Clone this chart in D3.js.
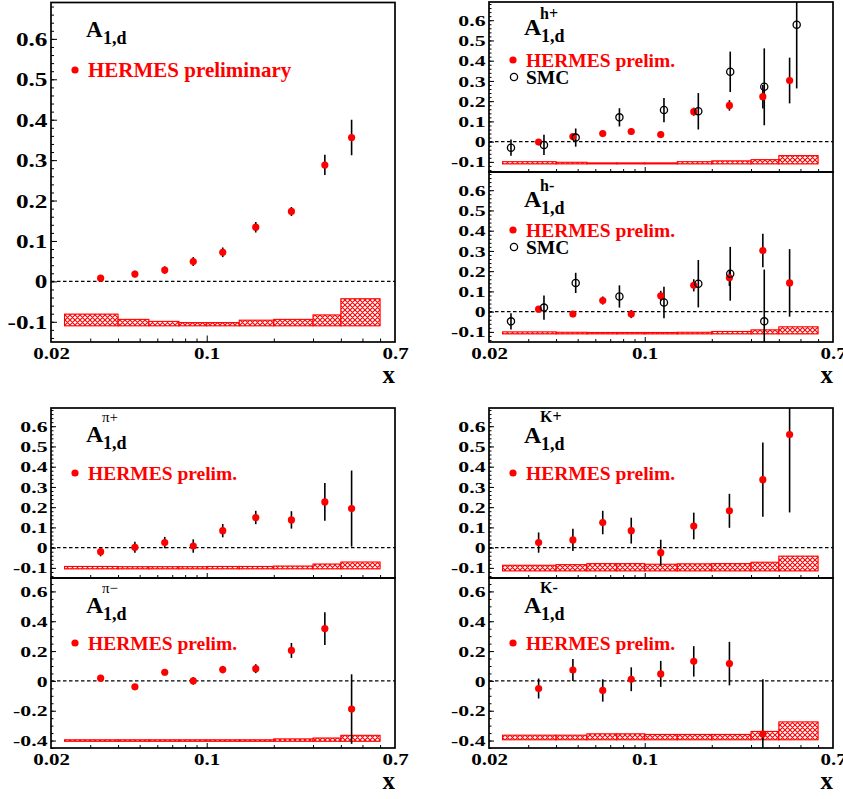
<!DOCTYPE html>
<html><head><meta charset="utf-8">
<script src="https://cdn.jsdelivr.net/npm/d3@7"></script>
<style>body{margin:0;background:#fff}svg{display:block}</style>
</head><body>
<svg id="chart" width="843" height="799"></svg>
<script>
// ---------------- data ----------------
const xBinEdges = [0.023, 0.04, 0.055, 0.075, 0.1, 0.14, 0.2, 0.3, 0.4, 0.6];
const xHermes = [0.0334, 0.0476, 0.0648, 0.087, 0.118, 0.166, 0.240, 0.339, 0.447];
const xSMC = [0.0251, 0.0353, 0.049, 0.077, 0.122, 0.174, 0.242, 0.344, 0.481];
const xTickLabels = [0.02, 0.1, 0.7];
const xMajorTicks = [0.1];
const xMinorTicks = [0.03, 0.04, 0.05, 0.06, 0.07, 0.08, 0.09, 0.2, 0.3, 0.4, 0.5, 0.6];
const yTicksUpper = [-0.1, 0, 0.1, 0.2, 0.3, 0.4, 0.5, 0.6];
const yTicksLower = [-0.4, -0.2, 0, 0.2, 0.4, 0.6];

const a1dValues = [0.008, 0.018, 0.028, 0.049, 0.072, 0.134, 0.173, 0.288, 0.356];
const a1dErrors = [0.007, 0.008, 0.009, 0.011, 0.012, 0.013, 0.011, 0.025, 0.044];
const a1dSyst   = [0.029, 0.016, 0.011, 0.008, 0.008, 0.014, 0.016, 0.027, 0.067];

const hPlusValues = [-0.002, 0.025, 0.040, 0.050, 0.035, 0.148, 0.179, 0.222, 0.302];
const hPlusErrors = [0.010, 0.012, 0.010, 0.016, 0.015, 0.020, 0.026, 0.058, 0.113];
const hPlusSyst   = [0.011, 0.008, 0.005, 0.005, 0.005, 0.011, 0.015, 0.021, 0.041];
const smcHPlusValues = [-0.030, -0.016, 0.020, 0.120, 0.156, 0.150, 0.345, 0.271, 0.578];
const smcHPlusErrors = [0.040, 0.050, 0.045, 0.045, 0.060, 0.090, 0.100, 0.190, 0.315];

const hMinusValues = [0.012, -0.012, 0.055, -0.012, 0.078, 0.130, 0.167, 0.302, 0.142];
const hMinusErrors = [0.010, 0.015, 0.020, 0.020, 0.025, 0.030, 0.040, 0.083, 0.167];
const hMinusSyst   = [0.010, 0.008, 0.007, 0.007, 0.007, 0.008, 0.012, 0.020, 0.035];
const smcHMinusValues = [-0.048, 0.020, 0.142, 0.075, 0.045, 0.138, 0.187, -0.048];
const smcHMinusErrors = [0.040, 0.060, 0.050, 0.055, 0.078, 0.117, 0.133, 0.256];

const piPlusValues = [-0.020, 0.002, 0.025, 0.008, 0.084, 0.149, 0.137, 0.226, 0.193];
const piPlusErrors = [0.023, 0.027, 0.028, 0.033, 0.033, 0.033, 0.043, 0.093, 0.188];
const piPlusSyst   = [0.012, 0.011, 0.011, 0.011, 0.012, 0.012, 0.014, 0.024, 0.034];

const piMinusValues = [0.018, -0.040, 0.058, 0.000, 0.076, 0.082, 0.204, 0.351, -0.189];
const piMinusErrors = [0.010, 0.015, 0.020, 0.025, 0.025, 0.030, 0.050, 0.110, 0.233];
const piMinusSyst   = [0.010, 0.010, 0.010, 0.010, 0.010, 0.010, 0.016, 0.022, 0.040];

const kPlusValues = [0.025, 0.038, 0.124, 0.084, -0.025, 0.107, 0.182, 0.336, 0.559];
const kPlusErrors = [0.050, 0.055, 0.058, 0.064, 0.064, 0.066, 0.084, 0.183, 0.385];
const kPlusSyst   = [0.028, 0.031, 0.036, 0.036, 0.033, 0.035, 0.036, 0.043, 0.073];

const kMinusValues = [-0.051, 0.073, -0.064, 0.011, 0.047, 0.131, 0.116, -0.356];
const kMinusErrors = [0.067, 0.074, 0.075, 0.080, 0.087, 0.102, 0.146, 0.367];
const kMinusSyst   = [0.031, 0.031, 0.040, 0.040, 0.036, 0.036, 0.036, 0.056, 0.120];

// ---------------- layout ----------------
const FONT = "'Liberation Serif','Times New Roman',Times,serif";
const colL = {left: 51, right: 395}, colR = {left: 489, right: 833};

const panels = [
  {col: colL, top: 2.5, bottom: 342, yDomain: [-0.15, 0.69], yTicks: yTicksUpper, yMinor: 0.02, big: true,
   sup: null, supBold: true, aOff: 34, supOff: 0, values: a1dValues, errors: a1dErrors, syst: a1dSyst, base: -0.11,
   legend: 'HERMES preliminary', legOff: 67.5, xlabels: true},
  {col: colR, top: 2, bottom: 172, yDomain: [-0.15, 0.69], yTicks: yTicksUpper, yMinor: 0.02,
   sup: 'h+', supBold: true, aOff: 33, supOff: 17, values: hPlusValues, errors: hPlusErrors, syst: hPlusSyst, base: -0.11,
   smcValues: smcHPlusValues, smcErrors: smcHPlusErrors, legend: 'HERMES prelim.', legOff: 58, xlabels: false},
  {col: colR, top: 172, bottom: 342, yDomain: [-0.15, 0.69], yTicks: yTicksUpper, yMinor: 0.02,
   sup: 'h-', supBold: true, aOff: 35, supOff: 19, values: hMinusValues, errors: hMinusErrors, syst: hMinusSyst, base: -0.11,
   smcValues: smcHMinusValues, smcErrors: smcHMinusErrors, legend: 'HERMES prelim.', legOff: 58, xlabels: true},
  {col: colL, top: 408, bottom: 578, yDomain: [-0.15, 0.69], yTicks: yTicksUpper, yMinor: 0.02,
   sup: 'π+', supBold: false, aOff: 34, supOff: 14, values: piPlusValues, errors: piPlusErrors, syst: piPlusSyst, base: -0.105,
   legend: 'HERMES prelim.', legOff: 65, xlabels: false},
  {col: colL, top: 578, bottom: 748, yDomain: [-0.45, 0.69], yTicks: yTicksLower, yMinor: 0.05,
   sup: 'π\u2212', supBold: false, aOff: 35, supOff: 15, values: piMinusValues, errors: piMinusErrors, syst: piMinusSyst, base: -0.405,
   legend: 'HERMES prelim.', legOff: 65, xlabels: true},
  {col: colR, top: 408, bottom: 578, yDomain: [-0.15, 0.69], yTicks: yTicksUpper, yMinor: 0.02,
   sup: 'K+', supBold: true, aOff: 35, supOff: 14, values: kPlusValues, errors: kPlusErrors, syst: kPlusSyst, base: -0.115,
   legend: 'HERMES prelim.', legOff: 65, xlabels: false},
  {col: colR, top: 578, bottom: 748, yDomain: [-0.45, 0.69], yTicks: yTicksLower, yMinor: 0.05,
   sup: 'K-', supBold: true, aOff: 35, supOff: 15, values: kMinusValues, errors: kMinusErrors, syst: kMinusSyst, base: -0.395,
   legend: 'HERMES prelim.', legOff: 65, xlabels: true}
];

// ---------------- drawing ----------------
const svg = d3.select('#chart');
const defs = svg.append('defs');
const P = 5;
const pat = defs.append('pattern').attr('id', 'hatch').attr('patternUnits', 'userSpaceOnUse')
  .attr('width', P).attr('height', P);
pat.append('rect').attr('width', P).attr('height', P).attr('fill', '#fff');
pat.append('path')
  .attr('d', `M0,0L${P},${P}M${P},0L0,${P}M-1,1L1,-1M${P-1},${P+1}L${P+1},${P-1}M-1,${P-1}L1,${P+1}M${P-1},-1L${P+1},1`)
  .attr('stroke', '#f00').attr('stroke-width', 1.1);

function txt(g, x, y, s, o) {
  return g.append('text')
    .attr('transform', `translate(${x},${y}) scale(${o.sx || 1},1)`)
    .attr('text-anchor', o.anchor || 'start')
    .attr('font-family', FONT).attr('font-size', o.size)
    .attr('font-weight', o.weight || 'bold')
    .attr('fill', o.fill || '#000').text(s);
}
const yFmt = d => d === 0 ? '0' : d.toFixed(1);

panels.forEach((p, i) => {
  const left = p.col.left, right = p.col.right;
  const x = d3.scaleLog().domain([0.02, 0.7]).range([left, right]);
  const y = d3.scaleLinear().domain(p.yDomain).range([p.bottom, p.top]);
  const g = svg.append('g');
  defs.append('clipPath').attr('id', 'clip' + i).append('rect')
    .attr('x', left).attr('y', p.top).attr('width', right - left).attr('height', p.bottom - p.top);
  const inner = g.append('g').attr('clip-path', `url(#clip${i})`);

  // systematic band
  const bins = p.syst.map((s, k) => ({x0: xBinEdges[k], x1: xBinEdges[k + 1], s}));
  inner.selectAll('rect.band').data(bins).join('rect').attr('class', 'band')
    .attr('x', d => x(d.x0)).attr('width', d => x(d.x1) - x(d.x0))
    .attr('y', d => y(p.base + d.s)).attr('height', d => y(p.base) - y(p.base + d.s))
    .attr('fill', 'url(#hatch)').attr('stroke', '#f00').attr('stroke-width', 1.1);

  // zero line
  inner.append('line').attr('x1', left).attr('x2', right).attr('y1', y(0)).attr('y2', y(0))
    .attr('stroke', '#000').attr('stroke-width', 1.2).attr('stroke-dasharray', '3.5,2.5');

  const herm = p.values.map((v, k) => ({x: xHermes[k], v, e: p.errors[k]}));
  const smc = p.smcValues ? p.smcValues.map((v, k) => ({x: xSMC[k], v, e: p.smcErrors[k]})) : [];

  // error bars
  inner.selectAll('line.eb').data(herm.concat(smc)).join('line').attr('class', 'eb')
    .attr('x1', d => x(d.x)).attr('x2', d => x(d.x))
    .attr('y1', d => y(d.v - d.e)).attr('y2', d => y(d.v + d.e))
    .attr('stroke', '#000').attr('stroke-width', 1.6);
  // markers
  inner.selectAll('circle.h').data(herm).join('circle').attr('class', 'h')
    .attr('cx', d => x(d.x)).attr('cy', d => y(d.v)).attr('r', 3.6).attr('fill', '#f00');
  inner.selectAll('circle.s').data(smc).join('circle').attr('class', 's')
    .attr('cx', d => x(d.x)).attr('cy', d => y(d.v)).attr('r', 3.6)
    .attr('fill', 'none').attr('stroke', '#000').attr('stroke-width', 1.3);

  // x axis ticks (bottom, pointing inward)
  const big = !!p.big;
  const axG = g.append('g').attr('transform', `translate(0,${p.bottom})`);
  axG.append('g').call(d3.axisBottom(x).tickValues(xMinorTicks).tickSize(big ? -3.5 : -3).tickFormat(''));
  axG.append('g').call(d3.axisBottom(x).tickValues(xMajorTicks).tickSize(big ? -6.5 : -5).tickFormat(''));
  if (p.xlabels) {
    const lab = axG.append('g').call(d3.axisBottom(x).tickValues(xTickLabels).tickSize(0)
      .tickFormat(d => String(d)));
    lab.selectAll('text').attr('y', 17).attr('dy', 0).attr('transform', 'scale(1.2,1)')
      .attr('font-size', 17.5).attr('font-weight', 'bold').attr('font-family', FONT).attr('fill', '#000');
    lab.selectAll('line').remove();
    txt(g, right, p.bottom + 41, 'x', {size: 25, anchor: 'end'});
  }
  axG.selectAll('.domain').remove();
  axG.selectAll('line').attr('stroke', '#000').attr('stroke-width', 1);

  // y axis ticks
  const ayG = g.append('g').attr('transform', `translate(${left},0)`);
  const yMin = Math.ceil(p.yDomain[0] / p.yMinor - 1e-6), yMax = Math.floor(p.yDomain[1] / p.yMinor + 1e-6);
  const minorY = d3.range(yMin, yMax + 1).map(k => +(k * p.yMinor).toFixed(3));
  ayG.append('g').call(d3.axisLeft(y).tickValues(minorY).tickSize(big ? -3 : -2.5).tickFormat(''));
  const sx = big ? 1.33 : 1.45, fs = big ? 19 : 15;
  const yl = ayG.append('g').call(d3.axisLeft(y).tickValues(p.yTicks).tickSize(big ? -6 : -5).tickFormat(yFmt));
  yl.selectAll('text').attr('x', -3.5 / sx).attr('dy', '0.34em').attr('transform', `scale(${sx},1)`)
    .attr('font-size', fs).attr('font-weight', 'bold').attr('font-family', FONT).attr('fill', '#000');
  ayG.selectAll('.domain').remove();
  ayG.selectAll('line').attr('stroke', '#000').attr('stroke-width', 1);

  // frame
  g.append('rect').attr('x', left).attr('y', p.top).attr('width', right - left).attr('height', p.bottom - p.top)
    .attr('fill', 'none').attr('stroke', '#000').attr('stroke-width', 1.7);

  // title A_{1,d}^{sup}
  txt(g, left + 35, p.top + p.aOff, 'A', {size: big ? 23 : 24});
  txt(g, left + 52, p.top + p.aOff + 7, '1,d', {size: 18});
  if (p.sup) txt(g, left + 51, p.top + p.supOff, p.sup, {size: p.supBold ? 16 : 15, weight: p.supBold ? 'bold' : 'normal'});

  // legend
  const ly = p.top + p.legOff;
  g.append('circle').attr('cx', left + 24).attr('cy', ly).attr('r', 3.6).attr('fill', '#f00');
  txt(g, left + 37, ly + 7, p.legend, {size: big ? 21 : 19.5, fill: '#f00'});
  if (p.smcValues) {
    g.append('circle').attr('cx', left + 25).attr('cy', ly + 17).attr('r', 3.6)
      .attr('fill', 'none').attr('stroke', '#000').attr('stroke-width', 1.3);
    txt(g, left + 37, ly + 24, 'SMC', {size: 19.5});
  }
});
</script>
</body></html>
